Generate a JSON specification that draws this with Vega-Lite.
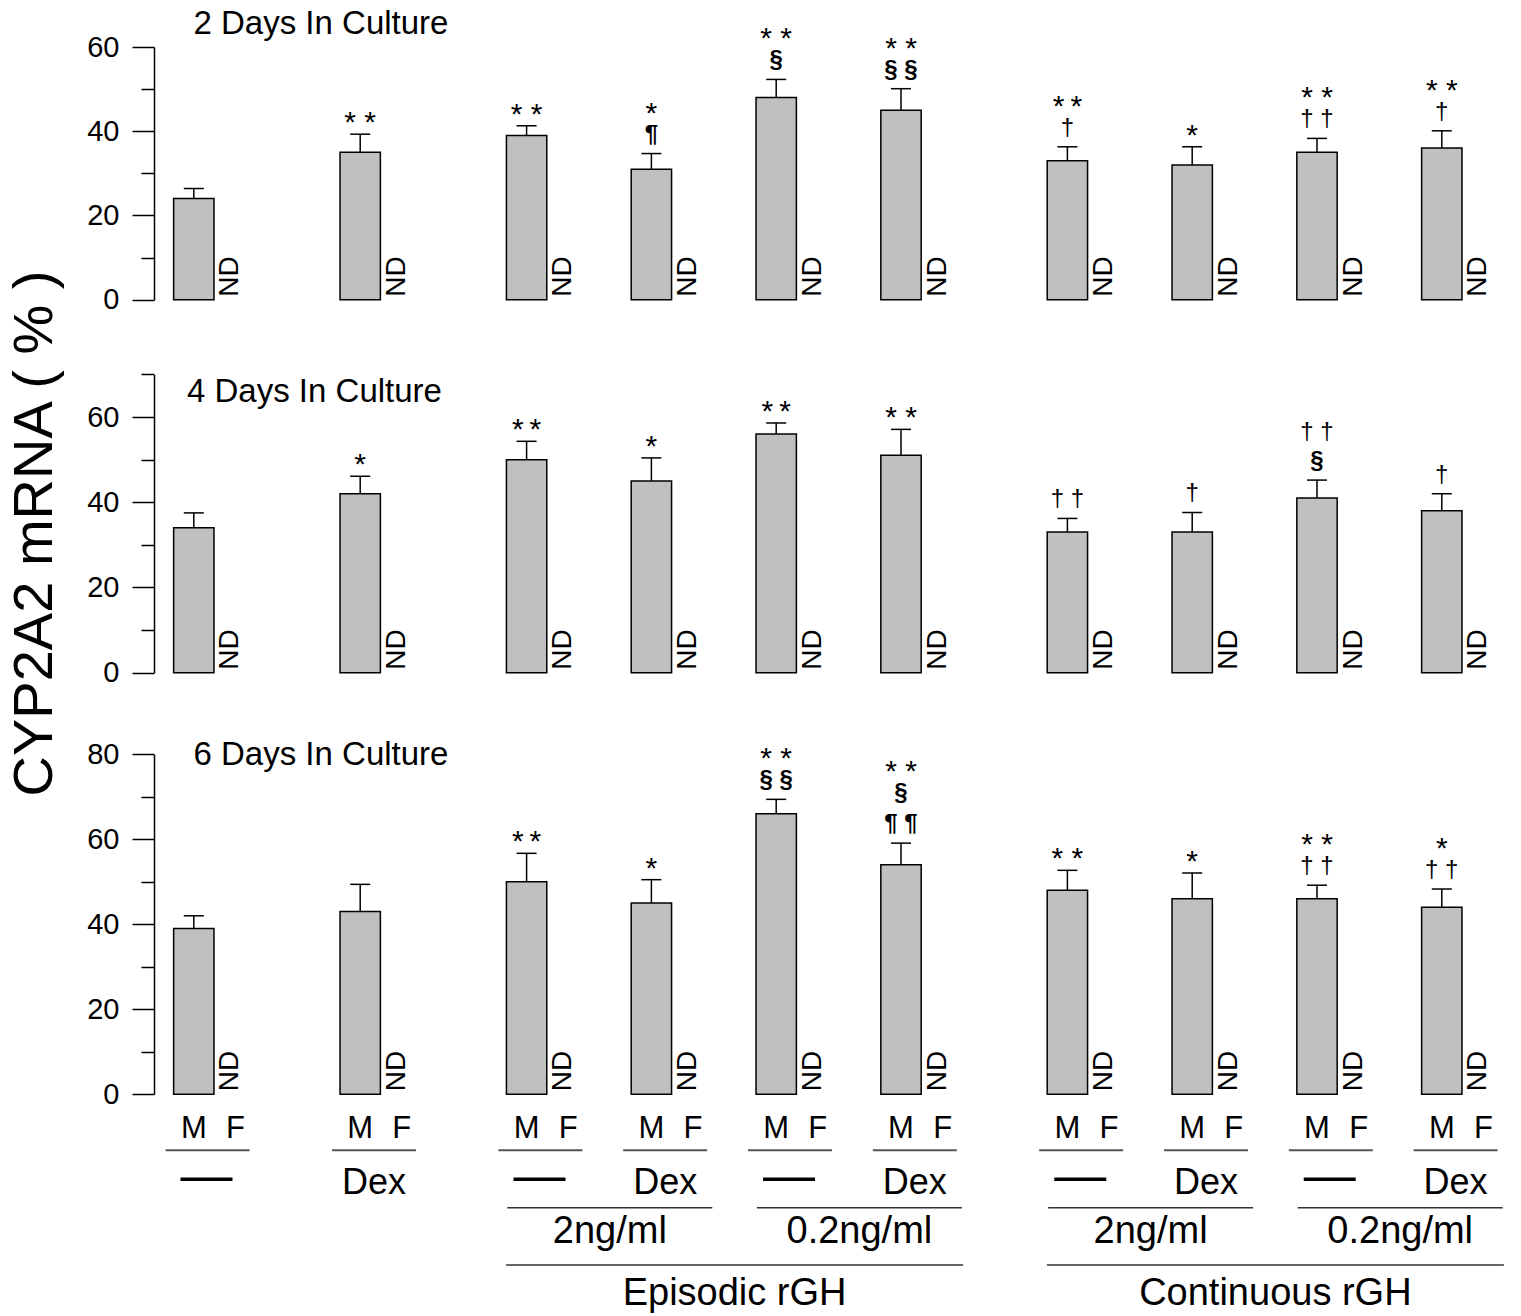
{
  "$schema": "https://vega.github.io/schema/vega-lite/v6.json",
  "background": "white",
  "padding": {"left": 6, "top": 8, "right": 0, "bottom": 0},
  "config": {
    "font": "Liberation Sans",
    "view": {"stroke": null},
    "axis": {"grid": false, "labelColor": "black", "titleColor": "black", "tickColor": "black", "domainColor": "black", "labelFont": "Liberation Sans", "titleFont": "Liberation Sans"},
    "text": {"color": "black"}
  },
  "datasets": {
    "bars": [
      {"p": 2, "g": 1, "k": "2-1", "m": "M1", "f": "F1", "v": 24, "hi": 26.4, "dex": "—"},
      {"p": 2, "g": 2, "k": "2-2", "m": "M2", "f": "F2", "v": 35, "hi": 39.3, "dex": "Dex"},
      {"p": 2, "g": 3, "k": "2-3", "m": "M3", "f": "F3", "v": 39, "hi": 41.3, "dex": "—"},
      {"p": 2, "g": 4, "k": "2-4", "m": "M4", "f": "F4", "v": 31, "hi": 34.7, "dex": "Dex"},
      {"p": 2, "g": 5, "k": "2-5", "m": "M5", "f": "F5", "v": 48, "hi": 52.3, "dex": "—"},
      {"p": 2, "g": 6, "k": "2-6", "m": "M6", "f": "F6", "v": 45, "hi": 50.1, "dex": "Dex"},
      {"p": 2, "g": 7, "k": "2-7", "m": "M7", "f": "F7", "v": 33, "hi": 36.3, "dex": "—"},
      {"p": 2, "g": 8, "k": "2-8", "m": "M8", "f": "F8", "v": 32, "hi": 36.3, "dex": "Dex"},
      {"p": 2, "g": 9, "k": "2-9", "m": "M9", "f": "F9", "v": 35, "hi": 38.3, "dex": "—"},
      {"p": 2, "g": 10, "k": "2-10", "m": "M10", "f": "F10", "v": 36, "hi": 40.1, "dex": "Dex"},
      {"p": 4, "g": 1, "k": "4-1", "m": "M1", "f": "F1", "v": 34, "hi": 37.5, "dex": "—"},
      {"p": 4, "g": 2, "k": "4-2", "m": "M2", "f": "F2", "v": 42, "hi": 46.1, "dex": "Dex"},
      {"p": 4, "g": 3, "k": "4-3", "m": "M3", "f": "F3", "v": 50, "hi": 54.3, "dex": "—"},
      {"p": 4, "g": 4, "k": "4-4", "m": "M4", "f": "F4", "v": 45, "hi": 50.4, "dex": "Dex"},
      {"p": 4, "g": 5, "k": "4-5", "m": "M5", "f": "F5", "v": 56, "hi": 58.6, "dex": "—"},
      {"p": 4, "g": 6, "k": "4-6", "m": "M6", "f": "F6", "v": 51, "hi": 57.1, "dex": "Dex"},
      {"p": 4, "g": 7, "k": "4-7", "m": "M7", "f": "F7", "v": 33, "hi": 36.2, "dex": "—"},
      {"p": 4, "g": 8, "k": "4-8", "m": "M8", "f": "F8", "v": 33, "hi": 37.6, "dex": "Dex"},
      {"p": 4, "g": 9, "k": "4-9", "m": "M9", "f": "F9", "v": 41, "hi": 45.2, "dex": "—"},
      {"p": 4, "g": 10, "k": "4-10", "m": "M10", "f": "F10", "v": 38, "hi": 42.0, "dex": "Dex"},
      {"p": 6, "g": 1, "k": "6-1", "m": "M1", "f": "F1", "v": 39, "hi": 42.0, "dex": "—"},
      {"p": 6, "g": 2, "k": "6-2", "m": "M2", "f": "F2", "v": 43, "hi": 49.4, "dex": "Dex"},
      {"p": 6, "g": 3, "k": "6-3", "m": "M3", "f": "F3", "v": 50, "hi": 56.7, "dex": "—"},
      {"p": 6, "g": 4, "k": "6-4", "m": "M4", "f": "F4", "v": 45, "hi": 50.5, "dex": "Dex"},
      {"p": 6, "g": 5, "k": "6-5", "m": "M5", "f": "F5", "v": 66, "hi": 69.4, "dex": "—"},
      {"p": 6, "g": 6, "k": "6-6", "m": "M6", "f": "F6", "v": 54, "hi": 59.1, "dex": "Dex"},
      {"p": 6, "g": 7, "k": "6-7", "m": "M7", "f": "F7", "v": 48, "hi": 52.7, "dex": "—"},
      {"p": 6, "g": 8, "k": "6-8", "m": "M8", "f": "F8", "v": 46, "hi": 52.1, "dex": "Dex"},
      {"p": 6, "g": 9, "k": "6-9", "m": "M9", "f": "F9", "v": 46, "hi": 49.2, "dex": "—"},
      {"p": 6, "g": 10, "k": "6-10", "m": "M10", "f": "F10", "v": 44, "hi": 48.3, "dex": "Dex"}
    ],
    "ann": [
      {"p": 2, "k": "2-2", "c": "s", "l": 0, "t": "* *"},
      {"p": 2, "k": "2-3", "c": "s", "l": 0, "t": "* *"},
      {"p": 2, "k": "2-4", "c": "b", "l": 1, "t": "¶"},
      {"p": 2, "k": "2-4", "c": "s", "l": 1, "t": "*"},
      {"p": 2, "k": "2-5", "c": "b", "l": 1, "t": "§"},
      {"p": 2, "k": "2-5", "c": "s", "l": 1, "t": "* *"},
      {"p": 2, "k": "2-6", "c": "b", "l": 1, "t": "§ §"},
      {"p": 2, "k": "2-6", "c": "s", "l": 1, "t": "* *"},
      {"p": 2, "k": "2-7", "c": "d", "l": 1, "t": "†"},
      {"p": 2, "k": "2-7", "c": "s", "l": 1, "t": "*\u2009*"},
      {"p": 2, "k": "2-8", "c": "s", "l": 0, "t": "*"},
      {"p": 2, "k": "2-9", "c": "d", "l": 1, "t": "† †"},
      {"p": 2, "k": "2-9", "c": "s", "l": 1, "t": "* *"},
      {"p": 2, "k": "2-10", "c": "d", "l": 1, "t": "†"},
      {"p": 2, "k": "2-10", "c": "s", "l": 1, "t": "* *"},
      {"p": 4, "k": "4-2", "c": "s", "l": 0, "t": "*"},
      {"p": 4, "k": "4-3", "c": "s", "l": 0, "t": "*\u2009*"},
      {"p": 4, "k": "4-4", "c": "s", "l": 0, "t": "*"},
      {"p": 4, "k": "4-5", "c": "s", "l": 0, "t": "*\u2009*"},
      {"p": 4, "k": "4-6", "c": "s", "l": 0, "t": "* *"},
      {"p": 4, "k": "4-7", "c": "d", "l": 1, "t": "† †"},
      {"p": 4, "k": "4-8", "c": "d", "l": 1, "t": "†"},
      {"p": 4, "k": "4-9", "c": "b", "l": 1, "t": "§"},
      {"p": 4, "k": "4-9", "c": "d", "l": 2, "t": "† †"},
      {"p": 4, "k": "4-10", "c": "d", "l": 1, "t": "†"},
      {"p": 6, "k": "6-3", "c": "s", "l": 0, "t": "*\u2009*"},
      {"p": 6, "k": "6-4", "c": "s", "l": 0, "t": "*"},
      {"p": 6, "k": "6-5", "c": "b", "l": 1, "t": "§ §"},
      {"p": 6, "k": "6-5", "c": "s", "l": 1, "t": "* *"},
      {"p": 6, "k": "6-6", "c": "b", "l": 1, "t": "¶ ¶"},
      {"p": 6, "k": "6-6", "c": "b", "l": 2, "t": "§"},
      {"p": 6, "k": "6-6", "c": "s", "l": 2, "t": "* *"},
      {"p": 6, "k": "6-7", "c": "s", "l": 0, "t": "* *"},
      {"p": 6, "k": "6-8", "c": "s", "l": 0, "t": "*"},
      {"p": 6, "k": "6-9", "c": "d", "l": 1, "t": "† †"},
      {"p": 6, "k": "6-9", "c": "s", "l": 1, "t": "* *"},
      {"p": 6, "k": "6-10", "c": "d", "l": 1, "t": "† †"},
      {"p": 6, "k": "6-10", "c": "s", "l": 1, "t": "*"}
    ],
    "titles": [
      {"p": 2, "t": "2 Days In Culture"},
      {"p": 4, "t": "4 Days In Culture"},
      {"p": 6, "t": "6 Days In Culture"}
    ],
    "labels": [
      {"row": "dose", "slot": "g5", "t": "2ng/ml"},
      {"row": "dose", "slot": "g7", "t": "0.2ng/ml"},
      {"row": "dose", "slot": "g10", "t": "2ng/ml"},
      {"row": "dose", "slot": "g12", "t": "0.2ng/ml"},
      {"row": "mode", "slot": "g6", "t": "Episodic rGH"},
      {"row": "mode", "slot": "g11", "t": "Continuous rGH"}
    ]
  },
  "vconcat": [
    {
      "width": 1348.5,
      "height": 252.7,
      "resolve": {"axis": {"y": "independent"}},
      "layer": [
        {
          "data": {"name": "bars"},
          "transform": [{"filter": "datum.p == 2"}],
          "mark": {"type": "bar", "fill": "#c0c0c0", "stroke": "black", "strokeWidth": 1.5, "width": {"band": 0.97}},
          "encoding": {
            "x": {"field": "m", "type": "nominal", "scale": {"type": "band", "domain": ["M1","F1","g1","g2","M2","F2","g3","g4","M3","F3","g5","M4","F4","g6","M5","F5","g7","M6","F6","g8","g9","M7","F7","g10","M8","F8","g11","M9","F9","g12","M10","F10"], "paddingInner": 0, "paddingOuter": 0.208, "align": 0, "round": false}, "axis": {"labels": false, "ticks": false, "title": null, "domainWidth": 3.5, "domainColor": "black"}},
            "y": {"field": "v", "type": "quantitative", "scale": {"domain": [0, 60], "nice": false}, "axis": {"orient": "left", "values": [0, 20, 40, 60], "tickSize": 22, "tickWidth": 1.5, "domainWidth": 1.5, "labelFontSize": 29, "labelPadding": 13, "offset": 19, "title": null}}
          }
        },
        {
          "data": {"name": "bars"},
          "transform": [{"filter": "datum.p == 2"}],
          "mark": {"type": "rule", "strokeWidth": 1.5, "color": "black"},
          "encoding": {
            "x": {"field": "m", "type": "nominal", "axis": null},
            "y": {"field": "v", "type": "quantitative", "axis": {"orient": "left", "values": [10, 30, 50], "tickSize": 13, "tickWidth": 1.5, "domain": false, "labels": false, "offset": 19, "title": null}},
            "y2": {"field": "hi"}
          }
        },
        {
          "data": {"name": "bars"},
          "transform": [{"filter": "datum.p == 2"}],
          "mark": {"type": "tick", "orient": "horizontal", "size": 20, "thickness": 1.5, "color": "black", "opacity": 1},
          "encoding": {
            "x": {"field": "m", "type": "nominal", "axis": null},
            "y": {"field": "hi", "type": "quantitative", "axis": null}
          }
        },
        {
          "data": {"name": "bars"},
          "transform": [{"filter": "datum.p == 2"}],
          "mark": {"type": "text", "text": "ND", "angle": 270, "align": "left", "baseline": "middle", "fontSize": 28, "dx": 3, "dy": -5, "color": "black"},
          "encoding": {
            "x": {"field": "f", "type": "nominal", "axis": null},
            "y": {"datum": 0, "type": "quantitative", "axis": null}
          }
        },
        {
          "data": {"name": "titles"},
          "transform": [{"filter": "datum.p == 2"}],
          "mark": {"type": "text", "align": "left", "baseline": "alphabetic", "fontSize": 33, "dx": 20.5, "dy": -13, "color": "black"},
          "encoding": {
            "x": {"datum": "M1", "type": "nominal", "bandPosition": 0, "axis": null},
            "y": {"datum": 60, "type": "quantitative", "axis": null},
            "text": {"field": "t"}
          }
        },
        {
          "data": {"name": "ann"},
          "transform": [{"filter": "datum.p == 2"}, {"lookup": "k", "from": {"data": {"name": "bars"}, "key": "k", "fields": ["hi", "m"]}}],
          "encoding": {
            "x": {"field": "m", "type": "nominal", "axis": null},
            "y": {"field": "hi", "type": "quantitative", "axis": null},
            "text": {"field": "t"}
          },
          "layer": [
            {"transform": [{"filter": "datum.c == 's' && datum.l == 0"}], "mark": {"type": "text", "fontSize": 30, "baseline": "alphabetic", "dy": -2, "color": "black"}},
            {"transform": [{"filter": "datum.c == 's' && datum.l == 1"}], "mark": {"type": "text", "fontSize": 30, "baseline": "alphabetic", "dy": -31, "color": "black"}},
            {"transform": [{"filter": "datum.c == 's' && datum.l == 2"}], "mark": {"type": "text", "fontSize": 30, "baseline": "alphabetic", "dy": -62, "color": "black"}},
            {"transform": [{"filter": "datum.c == 'b' && datum.l == 1"}], "mark": {"type": "text", "fontSize": 24, "fontWeight": "bold", "baseline": "alphabetic", "dy": -12, "color": "black"}},
            {"transform": [{"filter": "datum.c == 'b' && datum.l == 2"}], "mark": {"type": "text", "fontSize": 24, "fontWeight": "bold", "baseline": "alphabetic", "dy": -43, "color": "black"}},
            {"transform": [{"filter": "datum.c == 'd' && datum.l == 1"}], "mark": {"type": "text", "fontSize": 24, "baseline": "alphabetic", "dy": -12, "color": "black"}},
            {"transform": [{"filter": "datum.c == 'd' && datum.l == 2"}], "mark": {"type": "text", "fontSize": 24, "baseline": "alphabetic", "dy": -41, "color": "black"}}
          ]
        }
      ]
    },
    {
      "width": 1348.5,
      "height": 372.7,
      "resolve": {"axis": {"y": "independent"}},
      "layer": [
        {
          "data": {"name": "bars"},
          "transform": [{"filter": "datum.p == 4"}],
          "mark": {"type": "bar", "fill": "#c0c0c0", "stroke": "black", "strokeWidth": 1.5, "width": {"band": 0.97}},
          "encoding": {
            "x": {"field": "m", "type": "nominal", "scale": {"type": "band", "domain": ["M1","F1","g1","g2","M2","F2","g3","g4","M3","F3","g5","M4","F4","g6","M5","F5","g7","M6","F6","g8","g9","M7","F7","g10","M8","F8","g11","M9","F9","g12","M10","F10"], "paddingInner": 0, "paddingOuter": 0.208, "align": 0, "round": false}, "axis": {"labels": false, "ticks": false, "title": null, "domainWidth": 3.5, "domainColor": "black"}},
            "y": {"field": "v", "type": "quantitative", "scale": {"domain": [0, 70], "nice": false, "range": [372.7, 74.4]}, "axis": {"orient": "left", "values": [0, 20, 40, 60], "tickSize": 22, "tickWidth": 1.5, "domainWidth": 1.5, "labelFontSize": 29, "labelPadding": 13, "offset": 19, "title": "CYP2A2 mRNA ( % )", "titleFontSize": 56, "titleFontWeight": "normal", "titlePadding": 23, "titleY": 233}}
          }
        },
        {
          "data": {"name": "bars"},
          "transform": [{"filter": "datum.p == 4"}],
          "mark": {"type": "rule", "strokeWidth": 1.5, "color": "black"},
          "encoding": {
            "x": {"field": "m", "type": "nominal", "axis": null},
            "y": {"field": "v", "type": "quantitative", "axis": {"orient": "left", "values": [10, 30, 50, 70], "tickSize": 13, "tickWidth": 1.5, "domain": false, "labels": false, "offset": 19, "title": null}},
            "y2": {"field": "hi"}
          }
        },
        {
          "data": {"name": "bars"},
          "transform": [{"filter": "datum.p == 4"}],
          "mark": {"type": "tick", "orient": "horizontal", "size": 20, "thickness": 1.5, "color": "black", "opacity": 1},
          "encoding": {
            "x": {"field": "m", "type": "nominal", "axis": null},
            "y": {"field": "hi", "type": "quantitative", "axis": null}
          }
        },
        {
          "data": {"name": "bars"},
          "transform": [{"filter": "datum.p == 4"}],
          "mark": {"type": "text", "text": "ND", "angle": 270, "align": "left", "baseline": "middle", "fontSize": 28, "dx": 3, "dy": -5, "color": "black"},
          "encoding": {
            "x": {"field": "f", "type": "nominal", "axis": null},
            "y": {"datum": 0, "type": "quantitative", "axis": null}
          }
        },
        {
          "data": {"name": "titles"},
          "transform": [{"filter": "datum.p == 4"}],
          "mark": {"type": "text", "align": "left", "baseline": "alphabetic", "fontSize": 33, "dx": 14, "dy": 27.3, "color": "black"},
          "encoding": {
            "x": {"datum": "M1", "type": "nominal", "bandPosition": 0, "axis": null},
            "y": {"datum": 70, "type": "quantitative", "axis": null},
            "text": {"field": "t"}
          }
        },
        {
          "data": {"name": "ann"},
          "transform": [{"filter": "datum.p == 4"}, {"lookup": "k", "from": {"data": {"name": "bars"}, "key": "k", "fields": ["hi", "m"]}}],
          "encoding": {
            "x": {"field": "m", "type": "nominal", "axis": null},
            "y": {"field": "hi", "type": "quantitative", "axis": null},
            "text": {"field": "t"}
          },
          "layer": [
            {"transform": [{"filter": "datum.c == 's' && datum.l == 0"}], "mark": {"type": "text", "fontSize": 30, "baseline": "alphabetic", "dy": -2, "color": "black"}},
            {"transform": [{"filter": "datum.c == 's' && datum.l == 1"}], "mark": {"type": "text", "fontSize": 30, "baseline": "alphabetic", "dy": -31, "color": "black"}},
            {"transform": [{"filter": "datum.c == 's' && datum.l == 2"}], "mark": {"type": "text", "fontSize": 30, "baseline": "alphabetic", "dy": -62, "color": "black"}},
            {"transform": [{"filter": "datum.c == 'b' && datum.l == 1"}], "mark": {"type": "text", "fontSize": 24, "fontWeight": "bold", "baseline": "alphabetic", "dy": -12, "color": "black"}},
            {"transform": [{"filter": "datum.c == 'b' && datum.l == 2"}], "mark": {"type": "text", "fontSize": 24, "fontWeight": "bold", "baseline": "alphabetic", "dy": -43, "color": "black"}},
            {"transform": [{"filter": "datum.c == 'd' && datum.l == 1"}], "mark": {"type": "text", "fontSize": 24, "baseline": "alphabetic", "dy": -12, "color": "black"}},
            {"transform": [{"filter": "datum.c == 'd' && datum.l == 2"}], "mark": {"type": "text", "fontSize": 24, "baseline": "alphabetic", "dy": -41, "color": "black"}}
          ]
        }
      ]
    },
    {
      "width": 1348.5,
      "height": 421.3,
      "resolve": {"axis": {"y": "independent"}},
      "layer": [
        {
          "data": {"name": "bars"},
          "transform": [{"filter": "datum.p == 6"}],
          "mark": {"type": "bar", "fill": "#c0c0c0", "stroke": "black", "strokeWidth": 1.5, "width": {"band": 0.97}},
          "encoding": {
            "x": {"field": "m", "type": "nominal", "scale": {"type": "band", "domain": ["M1","F1","g1","g2","M2","F2","g3","g4","M3","F3","g5","M4","F4","g6","M5","F5","g7","M6","F6","g8","g9","M7","F7","g10","M8","F8","g11","M9","F9","g12","M10","F10"], "paddingInner": 0, "paddingOuter": 0.208, "align": 0, "round": false}, "axis": {"labels": false, "ticks": false, "title": null, "domainWidth": 3.5, "domainColor": "black"}},
            "y": {"field": "v", "type": "quantitative", "scale": {"domain": [0, 80], "nice": false, "range": [421.3, 81.3]}, "axis": {"orient": "left", "values": [0, 20, 40, 60, 80], "tickSize": 22, "tickWidth": 1.5, "domainWidth": 1.5, "labelFontSize": 29, "labelPadding": 13, "offset": 19, "title": null}}
          }
        },
        {
          "data": {"name": "bars"},
          "transform": [{"filter": "datum.p == 6"}],
          "mark": {"type": "rule", "strokeWidth": 1.5, "color": "black"},
          "encoding": {
            "x": {"field": "m", "type": "nominal", "axis": null},
            "y": {"field": "v", "type": "quantitative", "axis": {"orient": "left", "values": [10, 30, 50, 70], "tickSize": 13, "tickWidth": 1.5, "domain": false, "labels": false, "offset": 19, "title": null}},
            "y2": {"field": "hi"}
          }
        },
        {
          "data": {"name": "bars"},
          "transform": [{"filter": "datum.p == 6"}],
          "mark": {"type": "tick", "orient": "horizontal", "size": 20, "thickness": 1.5, "color": "black", "opacity": 1},
          "encoding": {
            "x": {"field": "m", "type": "nominal", "axis": null},
            "y": {"field": "hi", "type": "quantitative", "axis": null}
          }
        },
        {
          "data": {"name": "bars"},
          "transform": [{"filter": "datum.p == 6"}],
          "mark": {"type": "text", "text": "ND", "angle": 270, "align": "left", "baseline": "middle", "fontSize": 28, "dx": 3, "dy": -5, "color": "black"},
          "encoding": {
            "x": {"field": "f", "type": "nominal", "axis": null},
            "y": {"datum": 0, "type": "quantitative", "axis": null}
          }
        },
        {
          "data": {"name": "titles"},
          "transform": [{"filter": "datum.p == 6"}],
          "mark": {"type": "text", "align": "left", "baseline": "alphabetic", "fontSize": 33, "dx": 20.5, "dy": 10.3, "color": "black"},
          "encoding": {
            "x": {"datum": "M1", "type": "nominal", "bandPosition": 0, "axis": null},
            "y": {"datum": 80, "type": "quantitative", "axis": null},
            "text": {"field": "t"}
          }
        },
        {
          "data": {"name": "ann"},
          "transform": [{"filter": "datum.p == 6"}, {"lookup": "k", "from": {"data": {"name": "bars"}, "key": "k", "fields": ["hi", "m"]}}],
          "encoding": {
            "x": {"field": "m", "type": "nominal", "axis": null},
            "y": {"field": "hi", "type": "quantitative", "axis": null},
            "text": {"field": "t"}
          },
          "layer": [
            {"transform": [{"filter": "datum.c == 's' && datum.l == 0"}], "mark": {"type": "text", "fontSize": 30, "baseline": "alphabetic", "dy": -2, "color": "black"}},
            {"transform": [{"filter": "datum.c == 's' && datum.l == 1"}], "mark": {"type": "text", "fontSize": 30, "baseline": "alphabetic", "dy": -31, "color": "black"}},
            {"transform": [{"filter": "datum.c == 's' && datum.l == 2"}], "mark": {"type": "text", "fontSize": 30, "baseline": "alphabetic", "dy": -62, "color": "black"}},
            {"transform": [{"filter": "datum.c == 'b' && datum.l == 1"}], "mark": {"type": "text", "fontSize": 24, "fontWeight": "bold", "baseline": "alphabetic", "dy": -12, "color": "black"}},
            {"transform": [{"filter": "datum.c == 'b' && datum.l == 2"}], "mark": {"type": "text", "fontSize": 24, "fontWeight": "bold", "baseline": "alphabetic", "dy": -43, "color": "black"}},
            {"transform": [{"filter": "datum.c == 'd' && datum.l == 1"}], "mark": {"type": "text", "fontSize": 24, "baseline": "alphabetic", "dy": -12, "color": "black"}},
            {"transform": [{"filter": "datum.c == 'd' && datum.l == 2"}], "mark": {"type": "text", "fontSize": 24, "baseline": "alphabetic", "dy": -41, "color": "black"}}
          ]
        }
      ]
    },
    {
      "width": 1348.5,
      "height": 212,
      "layer": [
        {
          "data": {"name": "bars"},
          "transform": [{"filter": "datum.p == 2"}],
          "mark": {"type": "text", "text": "M", "fontSize": 31, "baseline": "alphabetic", "color": "black"},
          "encoding": {
            "x": {"field": "m", "type": "nominal", "scale": {"type": "band", "domain": ["M1","F1","g1","g2","M2","F2","g3","g4","M3","F3","g5","M4","F4","g6","M5","F5","g7","M6","F6","g8","g9","M7","F7","g10","M8","F8","g11","M9","F9","g12","M10","F10"], "paddingInner": 0, "paddingOuter": 0.208, "align": 0, "round": false}, "axis": null},
            "y": {"datum": "sex", "type": "nominal", "scale": {"type": "point", "domain": ["sex", "treat", "dose", "mode"], "range": [43.3, 210], "padding": 0}, "axis": null}
          }
        },
        {
          "data": {"name": "bars"},
          "transform": [{"filter": "datum.p == 2"}],
          "mark": {"type": "text", "text": "F", "fontSize": 31, "baseline": "alphabetic", "color": "black"},
          "encoding": {
            "x": {"field": "f", "type": "nominal", "axis": null},
            "y": {"datum": "sex", "type": "nominal", "axis": null}
          }
        },
        {
          "data": {"name": "bars"},
          "transform": [{"filter": "datum.p == 2"}],
          "mark": {"type": "tick", "orient": "horizontal", "size": 84, "thickness": 2, "color": "#555555", "opacity": 1, "xOffset": 13.8, "yOffset": 12},
          "encoding": {
            "x": {"field": "m", "type": "nominal", "axis": null},
            "y": {"datum": "sex", "type": "nominal", "axis": null}
          }
        },
        {
          "data": {"name": "bars"},
          "transform": [{"filter": "datum.p == 2 && datum.dex == 'Dex'"}],
          "mark": {"type": "text", "fontSize": 36, "baseline": "alphabetic", "dx": -7, "color": "black"},
          "encoding": {
            "x": {"field": "m", "type": "nominal", "bandPosition": 1, "axis": null},
            "y": {"datum": "treat", "type": "nominal", "axis": null},
            "text": {"field": "dex"}
          }
        },
        {
          "data": {"name": "bars"},
          "transform": [{"filter": "datum.p == 2 && datum.dex != 'Dex'"}],
          "mark": {"type": "text", "fontSize": 52, "baseline": "alphabetic", "dx": -8, "dy": -2, "color": "black"},
          "encoding": {
            "x": {"field": "m", "type": "nominal", "bandPosition": 1, "axis": null},
            "y": {"datum": "treat", "type": "nominal", "axis": null},
            "text": {"field": "dex"}
          }
        },
        {
          "data": {"name": "labels"},
          "transform": [{"filter": "datum.row == 'dose'"}],
          "mark": {"type": "tick", "orient": "horizontal", "size": 205, "thickness": 1.5, "color": "#333333", "opacity": 1, "yOffset": -41.7},
          "encoding": {
            "x": {"field": "slot", "type": "nominal", "axis": null},
            "y": {"field": "row", "type": "nominal", "axis": null}
          }
        },
        {
          "data": {"name": "labels"},
          "transform": [{"filter": "datum.row == 'dose'"}],
          "mark": {"type": "text", "fontSize": 38, "baseline": "alphabetic", "dy": -6.4, "color": "black"},
          "encoding": {
            "x": {"field": "slot", "type": "nominal", "axis": null},
            "y": {"field": "row", "type": "nominal", "axis": null},
            "text": {"field": "t"}
          }
        },
        {
          "data": {"name": "labels"},
          "transform": [{"filter": "datum.row == 'mode'"}],
          "mark": {"type": "tick", "orient": "horizontal", "size": 457, "thickness": 1.5, "color": "#333333", "opacity": 1, "yOffset": -40},
          "encoding": {
            "x": {"field": "slot", "type": "nominal", "axis": null},
            "y": {"field": "row", "type": "nominal", "axis": null}
          }
        },
        {
          "data": {"name": "labels"},
          "transform": [{"filter": "datum.row == 'mode'"}],
          "mark": {"type": "text", "fontSize": 38, "baseline": "alphabetic", "color": "black"},
          "encoding": {
            "x": {"field": "slot", "type": "nominal", "axis": null},
            "y": {"field": "row", "type": "nominal", "axis": null},
            "text": {"field": "t"}
          }
        }
      ]
    }
  ],
  "spacing": 0,
  "bounds": "flush"
}
